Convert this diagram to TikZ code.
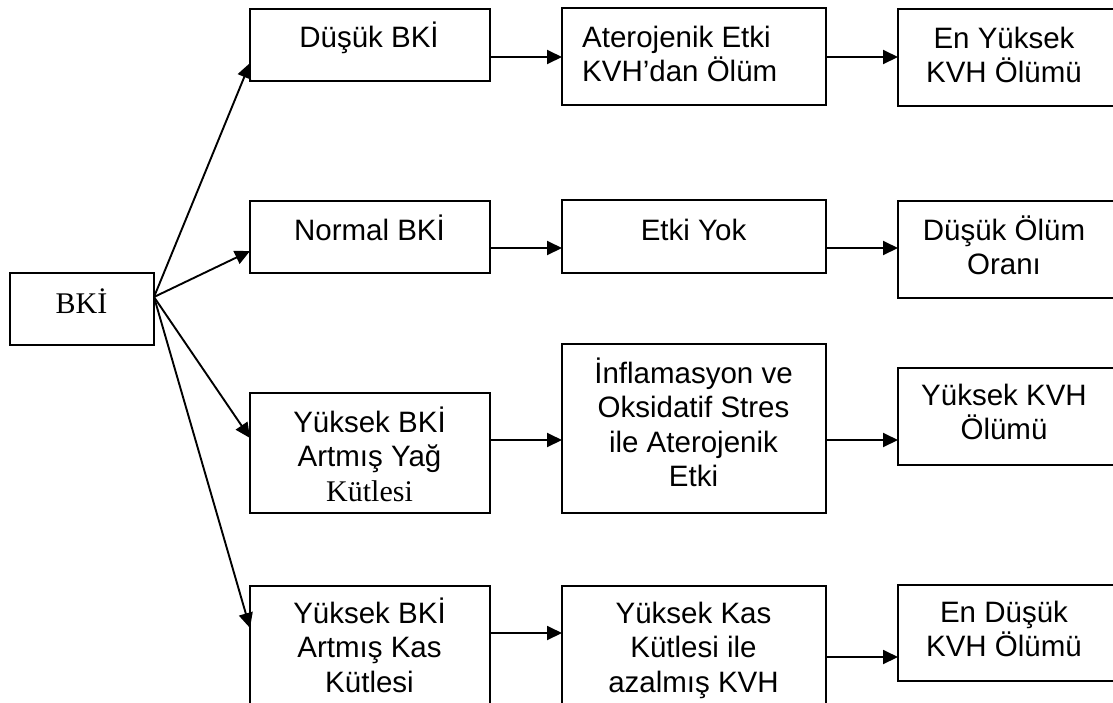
\documentclass[tikz,border=0pt]{standalone}
\usepackage{fontspec}
\setmainfont{Liberation Sans}
\newfontfamily\serifface{Liberation Serif}
\usetikzlibrary{arrows.meta}
\newcommand\tstrut{\rule{0pt}{27pt}}
\begin{document}
\begin{tikzpicture}[x=1pt,y=-1pt,
  box/.style={draw=black, line width=2.4pt, anchor=north west, inner sep=0pt, outer sep=0pt},
  lbl/.style={anchor=north, inner sep=0pt, align=center, font=\fontsize{29.5}{34.5}\selectfont},
  arr/.style={line width=1.9pt, -{Triangle[length=15pt,width=14pt]}}]
\useasboundingbox (0,0) rectangle (1113,702);
\clip (0,0) rectangle (1113,702);
% boxes
\node[box, minimum width=144pt, minimum height=72pt] (bki) at (10,273) {};
\node[box, minimum width=240pt, minimum height=72pt] (n1) at (250,9) {};
\node[box, minimum width=240pt, minimum height=72pt] (n2) at (250,201) {};
\node[box, minimum width=240pt, minimum height=120pt] (n3) at (250,393) {};
\node[box, minimum width=240pt, minimum height=140pt] (n4) at (250,586) {};
\node[box, minimum width=264pt, minimum height=97pt] (m1) at (562,8) {};
\node[box, minimum width=264pt, minimum height=73pt] (m2) at (562,200) {};
\node[box, minimum width=264pt, minimum height=169pt] (m3) at (562,344) {};
\node[box, minimum width=264pt, minimum height=140pt] (m4) at (562,586) {};
\node[box, minimum width=220pt, minimum height=97pt] (k1) at (898,9) {};
\node[box, minimum width=220pt, minimum height=97pt] (k2) at (898,201) {};
\node[box, minimum width=220pt, minimum height=97pt] (k3) at (898,368) {};
\node[box, minimum width=220pt, minimum height=96pt] (k4) at (898,585) {};
% texts
\node[lbl, font=\serifface\fontsize{30}{35}\selectfont] (t0) at (81.5,286) {\tstrut BKİ};
\node[lbl] (t1) at (369,20) {\tstrut Düşük BKİ};
\node[lbl] (t2) at (369.5,213) {\tstrut Normal BKİ};
\node[lbl] (t3) at (369.5,405) {\tstrut Yüksek BKİ\\Artmış Yağ\\{\serifface\fontsize{30}{34.5}\selectfont Kütlesi}};
\node[lbl] (t4) at (369.5,596) {\tstrut Yüksek BKİ\\Artmış Kas\\Kütlesi};
\node[lbl, anchor=north west, align=left] (u1) at (582,20) {\tstrut Aterojenik Etki\\KVH’dan Ölüm};
\node[lbl] (u2) at (693.5,213) {\tstrut Etki Yok};
\node[lbl] (u3) at (693.5,356) {\tstrut İnflamasyon ve\\Oksidatif Stres\\ile Aterojenik\\Etki};
\node[lbl] (u4) at (693.5,596) {\tstrut Yüksek Kas\\Kütlesi ile\\azalmış KVH};
\node[lbl] (v1) at (1004,21) {\tstrut En Yüksek\\KVH Ölümü};
\node[lbl] (v2) at (1004,213) {\tstrut Düşük Ölüm\\Oranı};
\node[lbl] (v3) at (1004,378) {\tstrut Yüksek KVH\\Ölümü};
\node[lbl] (v4) at (1004,595) {\tstrut En Düşük\\KVH Ölümü};
% row levels
\coordinate (y1) at (0,57);
\coordinate (y2) at (0,248);
\coordinate (y3) at (0,440);
\coordinate (y4) at (0,633);
\coordinate (z4) at (0,657);
% fan arrows
\draw[arr] ([yshift=-24pt]bki.north east) -- ([yshift=-54pt]n1.north west);
\draw[arr] ([yshift=-24pt]bki.north east) -- ([yshift=-50pt]n2.north west);
\draw[arr] ([yshift=-24pt]bki.north east) -- ([yshift=-45pt]n3.north west);
\draw[arr] ([yshift=-24pt]bki.north east) -- ([yshift=-42pt]n4.north west);
% row arrows
\draw[arr] (n1.east |- y1) -- (m1.west |- y1);
\draw[arr] (n2.east |- y2) -- (m2.west |- y2);
\draw[arr] (n3.east |- y3) -- (m3.west |- y3);
\draw[arr] (n4.east |- y4) -- (m4.west |- y4);
\draw[arr] (m1.east |- y1) -- (k1.west |- y1);
\draw[arr] (m2.east |- y2) -- (k2.west |- y2);
\draw[arr] (m3.east |- y3) -- (k3.west |- y3);
\draw[arr] (m4.east |- z4) -- (k4.west |- z4);
\end{tikzpicture}
\end{document}
